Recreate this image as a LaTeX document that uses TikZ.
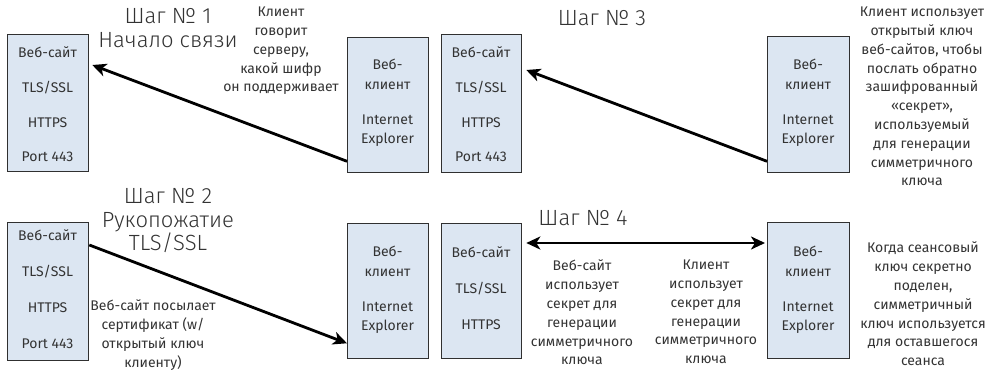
\documentclass[tikz,border=0pt]{standalone}
\usepackage{fontspec}
\setmainfont{Fira Sans}
\newfontfamily\titlefont{Fira Sans Light}
\usetikzlibrary{arrows.meta,calc}
\definecolor{boxfill}{HTML}{DCE6F2}
\definecolor{boxline}{HTML}{303030}
\definecolor{txt}{HTML}{333333}
\begin{document}
\begin{tikzpicture}[x=1pt,y=-1pt,
  box/.style={draw=boxline,fill=boxfill,line width=1.3pt,anchor=north west,inner sep=0pt},
  lbl/.style={text=txt,font=\fontsize{14}{18.8}\selectfont,align=center,inner sep=0pt,anchor=north,yshift=13.16pt,execute at begin node={\strut}},
  ttl/.style={text=txt,font=\titlefont\fontsize{22}{23.5}\selectfont,align=center,inner sep=0pt,anchor=north,yshift=16.45pt,execute at begin node={\strut}},
  arr/.style={line width=2.8pt,-{Stealth[length=14pt,width=13pt,inset=4pt]}},
  darr/.style={line width=2.8pt,{Stealth[length=14pt,width=13pt,inset=4pt]}-{Stealth[length=14pt,width=13pt,inset=4pt]}}]
\useasboundingbox (0,0) rectangle (999,372);
% boxes
\node[box,minimum width=81pt,minimum height=137pt] (w1) at (7,34) {};
\node[box,minimum width=81pt,minimum height=135pt] (c1) at (347,37) {};
\node[box,minimum width=80pt,minimum height=138pt] (w2) at (441,34) {};
\node[box,minimum width=82pt,minimum height=136pt] (c2) at (767,36) {};
\node[box,minimum width=81pt,minimum height=138pt] (w3) at (7,222) {};
\node[box,minimum width=81pt,minimum height=135pt] (c3) at (347,223) {};
\node[box,minimum width=80pt,minimum height=135pt] (w4) at (441,223) {};
\node[box,minimum width=82pt,minimum height=136pt] (c4) at (767,222) {};
% box texts
\foreach \n/\x/\y in {a/47.5/0,b/481/0}{
  \node[lbl] (\n1) at (\x,57+\y) {Веб-сайт};
  \node[lbl] (\n2) at (\x,92+\y) {TLS/SSL};
  \node[lbl] (\n3) at (\x,127+\y) {HTTPS};
  \node[lbl] (\n4) at (\x,161+\y) {Port 443};
}
\node[lbl] (e1) at (47.5,240) {Веб-сайт};
\node[lbl] (e2) at (47.5,276) {TLS/SSL};
\node[lbl] (e3) at (47.5,312) {HTTPS};
\node[lbl] (e4) at (47.5,348) {Port 443};
\node[lbl] (f1) at (481,257) {Веб-сайт};
\node[lbl] (f2) at (481,293) {TLS/SSL};
\node[lbl] (f3) at (481,329) {HTTPS};
\foreach \n/\x/\y in {g/387.5/0,h/808/0,i/387.5/187,j/808/187}{
  \node[lbl] (\n1) at (\x,69+\y) {Веб-};
  \node[lbl] (\n2) at (\x,89+\y) {клиент};
  \node[lbl] (\n3) at (\x,124+\y) {Internet};
  \node[lbl] (\n4) at (\x,143+\y) {Explorer};
}
% titles
\node[ttl] (t1) at (168,25) {Шаг № 1\\Начало связи};
\node[ttl] (t2) at (168,205) {Шаг № 2\\Рукопожатие\\TLS/SSL};
\node[ttl] (t3) at (602,25) {Шаг № 3};
\node[ttl] (t4) at (583,225) {Шаг № 4};
% notes
\node[lbl] (n1) at (281,20) {Клиент\\говорит\\серверу,\\какой шифр\\он поддерживает};
\node[lbl] (n3) at (922,20) {Клиент использует\\открытый ключ\\веб-сайтов, чтобы\\послать обратно\\зашифрованный\\«секрет»,\\используемый\\для генерации\\симметричного\\ключа};
\node[lbl] (n2) at (153,313) {Веб-сайт посылает\\сертификат (w/\\открытый ключ\\клиенту)};
\node[lbl] (n4a) at (582,273) {Веб-сайт\\использует\\секрет для\\генерации\\симметричного\\ключа};
\node[lbl] (n4b) at (706,273) {Клиент\\использует\\секрет для\\генерации\\симметричного\\ключа};
\node[lbl] (n5) at (923,255) {Когда сеансовый\\ключ секретно\\поделен,\\симметричный\\ключ используется\\для оставшегося\\сеанса};
% arrows
\draw[arr] ([yshift=12pt]c1.south west) -- ([xshift=3pt,yshift=-31pt]w1.north east);
\draw[arr] ([yshift=12pt]c2.south west) -- ([xshift=4pt,yshift=-36pt]w2.north east);
\draw[arr] ([yshift=-23pt]w3.north east) -- ([yshift=16pt]c3.south west);
\draw[darr] ([xshift=4pt,yshift=-20pt]w4.north east) -- ([xshift=-2pt,yshift=-21pt]c4.north west);
\end{tikzpicture}
\end{document}
